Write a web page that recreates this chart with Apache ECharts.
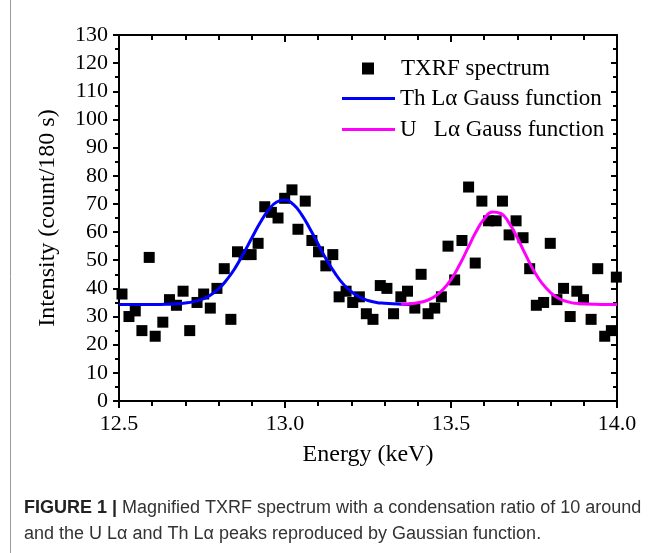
<!DOCTYPE html>
<html>
<head>
<meta charset="utf-8">
<script src="https://cdn.jsdelivr.net/npm/echarts@6/dist/echarts.min.js"></script>
<style>
html,body{margin:0;padding:0;background:#fff;}
#chart{width:652px;height:553px;}
</style>
</head>
<body>
<div id="chart"></div>
<script>
// Measured TXRF spectrum points (energy in keV, intensity in counts/180 s)
var energy = [12.509,12.530,12.549,12.569,12.591,12.609,12.632,12.652,12.673,12.693,12.713,12.735,12.755,12.775,12.795,12.817,12.837,12.857,12.877,12.898,12.919,12.939,12.959,12.979,12.999,13.021,13.039,13.061,13.081,13.101,13.123,13.144,13.163,13.184,13.204,13.224,13.245,13.265,13.287,13.307,13.327,13.349,13.369,13.391,13.410,13.431,13.451,13.471,13.491,13.511,13.533,13.553,13.573,13.593,13.613,13.636,13.655,13.675,13.696,13.717,13.737,13.757,13.779,13.799,13.819,13.839,13.859,13.879,13.899,13.922,13.942,13.963,13.983,13.998];
var counts = [38,30,32,25,51,23,28,36,34,39,25,35,38,33,40,47,29,53,52,52,56,69,67,65,72,75,61,71,57,53,48,52,37,39,35,37,31,29,41,40,31,37,39,33,45,31,33,37,55,43,57,76,49,71,64,64,71,59,64,58,47,34,35,56,36,40,30,39,36,29,47,23,25,44];

// Th L-alpha Gauss curve
var thEnergy = [12.500,12.525,12.550,12.575,12.600,12.625,12.650,12.675,12.700,12.725,12.750,12.775,12.800,12.825,12.850,12.875,12.900,12.925,12.950,12.975,13.000,13.025,13.050,13.075,13.100,13.125,13.150,13.175,13.200,13.225,13.250,13.275,13.300,13.325,13.350,13.375];
var thCurve = [34.3,34.3,34.3,34.3,34.3,34.3,34.4,34.5,34.8,35.3,36.1,37.6,39.8,43.1,47.3,52.4,57.9,63.3,67.8,70.7,71.4,69.8,66.2,61.2,55.7,50.2,45.5,41.6,38.8,36.9,35.7,35.0,34.7,34.5,34.4,34.3];

// U L-alpha Gauss curve
var uEnergy = [13.350,13.375,13.400,13.425,13.450,13.475,13.500,13.525,13.550,13.575,13.600,13.625,13.650,13.675,13.700,13.725,13.750,13.775,13.800,13.825,13.850,13.875,13.900,13.925,13.950,13.975,14.000];
var uCurve = [34.4,34.5,34.9,35.6,37.0,39.5,43.1,48.2,54.1,60.0,64.7,67.1,66.6,63.2,57.9,51.9,46.2,41.7,38.5,36.4,35.3,34.7,34.5,34.4,34.3,34.3,34.3];

var xTicks = [12.5, 13.0, 13.5, 14.0];
var yTicks = [0,10,20,30,40,50,60,70,80,90,100,110,120,130];

function pairs(xs, ys){ return xs.map(function(x,i){ return [x, ys[i]]; }); }

var serif = 'Liberation Serif';
var chart = echarts.init(document.getElementById('chart'), null, {renderer:'canvas'});

var axisLine = {show:true, onZero:false, lineStyle:{color:'#000', width:2}};
var option = {
  backgroundColor:'#fff',
  animation:false,
  grid:{left:119, right:35, top:35, bottom:152, containLabel:false},
  xAxis:[{
    type:'value', min:xTicks[0], max:xTicks[xTicks.length-1], interval:0.5, position:'bottom',
    axisLine:axisLine,
    axisTick:{show:true, inside:false, length:7, lineStyle:{color:'#000', width:2}},
    minorTick:{show:true, splitNumber:5, length:5, lineStyle:{color:'#000', width:2}},
    splitLine:{show:false}, minorSplitLine:{show:false},
    axisLabel:{show:true, margin:12, color:'#000', fontFamily:serif, fontSize:22,
      formatter:function(v){ return v.toFixed(1); }},
    name:'Energy (keV)', nameLocation:'middle', nameGap:42,
    nameTextStyle:{color:'#000', fontFamily:serif, fontSize:24}
  },{
    type:'value', min:xTicks[0], max:xTicks[xTicks.length-1], interval:0.5, position:'top',
    axisLine:axisLine,
    axisTick:{show:true, inside:true, length:7, lineStyle:{color:'#000', width:2}},
    minorTick:{show:true, splitNumber:5, length:5, lineStyle:{color:'#000', width:2}},
    splitLine:{show:false}, axisLabel:{show:false}
  }],
  yAxis:[{
    type:'value', min:yTicks[0], max:yTicks[yTicks.length-1], interval:10, position:'left',
    axisLine:axisLine,
    axisTick:{show:true, inside:false, length:6, lineStyle:{color:'#000', width:2}},
    minorTick:{show:true, splitNumber:2, length:4, lineStyle:{color:'#000', width:2}},
    splitLine:{show:false}, minorSplitLine:{show:false},
    axisLabel:{show:true, margin:11, color:'#000', fontFamily:serif, fontSize:22},
    name:'Intensity (count/180 s)', nameLocation:'middle', nameGap:59, nameRotate:90,
    nameTextStyle:{color:'#000', fontFamily:serif, fontSize:24}
  },{
    type:'value', min:yTicks[0], max:yTicks[yTicks.length-1], interval:10, position:'right',
    axisLine:axisLine,
    axisTick:{show:true, inside:true, length:6, lineStyle:{color:'#000', width:2}},
    minorTick:{show:true, splitNumber:2, length:4, lineStyle:{color:'#000', width:2}},
    splitLine:{show:false}, axisLabel:{show:false}
  }],
  legend:[{
    data:[{name:'TXRF spectrum', icon:'rect'}], orient:'vertical', left:357, top:52,
    itemWidth:12, itemHeight:12,
    textStyle:{color:'#000', fontFamily:serif, fontSize:23, lineHeight:23, padding:[0,0,0,22]},
    selectedMode:false
  },{
    data:[{name:'Th L\u03b1 Gauss function', icon:'rect'},{name:'U   L\u03b1 Gauss function', icon:'rect'}],
    orient:'vertical', left:337, top:82,
    itemWidth:53, itemHeight:3, itemGap:8,
    textStyle:{color:'#000', fontFamily:serif, fontSize:23, lineHeight:23},
    selectedMode:false
  }],
  graphic:[{
    type:'rect', shape:{x:10.5, y:-2, width:700, height:600}, silent:true,
    style:{fill:'none', stroke:'#9a9a9a', lineWidth:1}
  },{
    type:'text', left:24, top:495, silent:true,
    style:{
      text:'{b|FIGURE 1 |} Magnified TXRF spectrum with a condensation ratio of 10 around\nand the U L\u03b1 and Th L\u03b1 peaks reproduced by Gaussian function.',
      font:'18px "Liberation Sans"', fill:'#333', lineHeight:26,
      rich:{b:{fontFamily:'Liberation Sans', fontSize:18, fontWeight:'bold', fill:'#222', lineHeight:26}}
    }
  }],
  series:[{
    name:'TXRF spectrum', type:'scatter', xAxisIndex:0, yAxisIndex:0,
    data:pairs(energy, counts), symbol:'rect', symbolSize:11,
    itemStyle:{color:'#000', opacity:1}, clip:false
  },{
    name:'Th L\u03b1 Gauss function', type:'line', xAxisIndex:0, yAxisIndex:0,
    data:pairs(thEnergy, thCurve), smooth:true, symbol:'none', showSymbol:false,
    lineStyle:{color:'#0000ff', width:3}, itemStyle:{color:'#0000ff'}, z:3
  },{
    name:'U   L\u03b1 Gauss function', type:'line', xAxisIndex:0, yAxisIndex:0,
    data:pairs(uEnergy, uCurve), smooth:true, symbol:'none', showSymbol:false,
    lineStyle:{color:'#ff00ff', width:3}, itemStyle:{color:'#ff00ff'}, z:3
  }]
};
chart.setOption(option);
</script>
</body>
</html>
